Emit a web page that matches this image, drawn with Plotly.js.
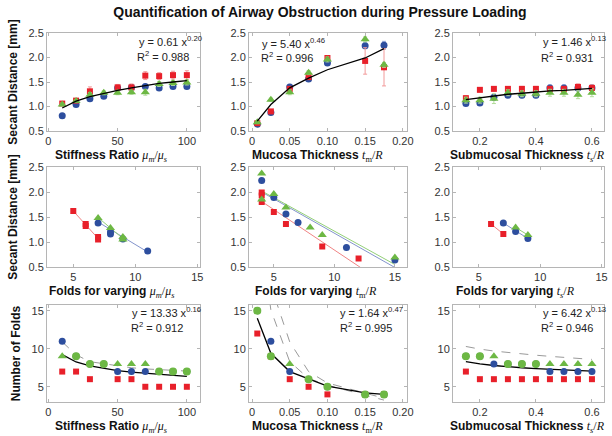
<!DOCTYPE html>
<html><head><meta charset="utf-8">
<script src="https://cdn.plot.ly/plotly-3.0.1.min.js"></script>
<style>html,body{margin:0;padding:0;background:#fff}#chart{width:612px;height:436px}</style>
</head><body><div id="chart"></div><script>
// ---------- categories ----------
const stiffRatio = [10,20,30,40,50,60,70,80,90,100];
const mucosaThk  = [0.007,0.025,0.05,0.075,0.1,0.15,0.175];
const submucThk  = [0.15,0.2,0.25,0.3,0.35,0.4,0.45,0.5,0.55,0.6];

// ---------- row 1: secant distance ----------
const secStiffBlue  = [0.81,1.04,1.16,1.21,1.38,1.39,1.41,1.38,1.41,1.41];
const secStiffRed   = [1.06,1.12,1.31,null,1.39,1.39,1.63,1.62,1.64,1.64];
const secStiffGreen = [1.04,1.11,1.24,1.28,1.28,1.29,1.29,1.46,1.48,1.49];
const errStiffBlue  = [0.03,0.03,0.04,0.04,0.05,0.05,0.04,0.04,0.04,0.04];
const errStiffRed   = [0.04,0.04,0.09,null,0.06,0.07,0.08,0.07,0.08,0.09];
const errStiffGreen = [0.03,0.03,0.04,0.04,0.04,0.04,0.06,0.05,0.05,0.05];
const secStiffFit   = [0.97,1.11,1.20,1.27,1.33,1.38,1.43,1.47,1.50,1.53];

const secMucBlue  = [0.64,0.88,1.40,1.56,1.89,2.24,2.25];
const secMucRed   = [0.66,0.90,1.36,1.60,1.99,1.93,1.80];
const secMucGreen = [0.68,1.14,1.29,1.69,1.96,2.37,1.85];
const errMucBlue  = [0.03,0.03,0.05,0.04,0.05,0.06,0.08];
const errMucRed   = [0.03,0.03,0.04,0.04,0.05,0.27,0.38];
const errMucGreen = [0.03,0.03,0.05,0.04,0.05,0.05,0.05];
const secMucFit   = [0.70,1.04,1.38,1.58,1.75,1.99,2.18];

const secSubBlue  = [1.06,1.07,1.19,1.23,1.23,1.23,1.38,1.38,1.38,1.38];
const secSubRed   = [1.17,1.34,1.36,1.36,1.36,1.36,1.36,1.36,1.40,1.38];
const secSubGreen = [1.13,1.13,1.16,1.28,1.26,1.26,1.28,1.28,1.24,1.28];
const errSubBlue  = [0.04,0.04,0.05,0.05,0.05,0.05,0.06,0.06,0.06,0.06];
const errSubRed   = [0.05,0.04,0.04,0.04,0.05,0.05,0.05,0.05,0.06,0.06];
const errSubGreen = [0.06,0.06,0.10,0.06,0.06,0.06,0.07,0.07,0.08,0.08];
const secSubFit   = [1.14,1.18,1.22,1.25,1.27,1.30,1.32,1.33,1.35,1.37];

// ---------- row 2: secant distance vs folds ----------
const foldsA_blue  = [7,8,8,9,11];        const secA_blue  = [1.38,1.16,1.20,1.06,0.82];
const foldsA_red   = [5,6,6,7,7];         const secA_red   = [1.62,1.32,1.36,1.05,1.10];
const foldsA_green = [7,8,9,9];           const secA_green = [1.48,1.28,1.10,1.05];
const lineA_blueX = [7,11];  const lineA_blueY = [1.40,0.80];
const lineA_redX  = [5,7];   const lineA_redY  = [1.62,1.07];
const lineA_greenX= [7,9];   const lineA_greenY= [1.49,1.07];

const foldsB_blue  = [4,5,6,7,11,15];     const secB_blue  = [2.23,1.89,1.56,1.39,0.89,0.64];
const foldsB_red   = [4,4,4,5,6,9,12];    const secB_red   = [1.99,1.93,1.80,1.60,1.36,0.91,0.67];
const foldsB_green = [4,4,5,6,8,9,15];    const secB_green = [2.37,1.85,1.96,1.69,1.29,1.14,0.69];
const lineB_blueX = [4,15];  const lineB_blueY = [2.00,0.49];
const lineB_redX  = [4,13];  const lineB_redY  = [1.81,0.355];
const lineB_greenX= [4,15];  const lineB_greenY= [2.02,0.55];

const foldsC_blue  = [7,8,9];   const secC_blue  = [1.38,1.21,1.07];
const foldsC_red   = [6,7];     const secC_red   = [1.36,1.16];
const foldsC_green = [8,9];     const secC_green = [1.29,1.14];
const lineC_blueX = [7,9];  const lineC_blueY = [1.38,1.07];
const lineC_redX  = [6,7];  const lineC_redY  = [1.36,1.16];
const lineC_greenX= [8,9];  const lineC_greenY= [1.29,1.14];

// ---------- row 3: number of folds ----------
const foldStiffBlue  = [11,9,8,8,7,7,7,7,7,7];
const foldStiffRed   = [7,7,6,null,6,6,5,5,5,5];
const foldStiffGreen = [9,9,8,8,8,8,8,7,7,7];
const foldStiffFit   = [9.22,8.26,7.74,7.39,7.13,6.92,6.76,6.61,6.49,6.38];
const foldStiffDash  = [10.9,9.2,8.3,8.0,7.7,7.5,7.35,7.25,7.15,7.07];

const foldMucBlue  = [15,11,7,6,5,4,4];
const foldMucRed   = [12,9,6,5,4,4,4];
const foldMucGreen = [15,9,8,6,5,4,4];
const foldMucFit   = [14.0,9.4,7.0,6.0,5.1,4.2,4.0];
const foldMucDashA = [28,15.1,8.3,6.1,5.2,3.9,3.25];
const foldMucDashB = [40,18.3,10.9,7.0,5.5,4.1,3.5];

const foldSubBlue  = [9,9,8,8,8,8,7,7,7,7];
const foldSubRed   = [7,6,6,6,6,6,6,6,6,6];
const foldSubGreen = [9,9,9,8,8,8,8,8,8,8];
const foldSubFit   = [8.30,8.00,7.80,7.62,7.50,7.40,7.30,7.20,7.12,7.05];
const foldSubDash  = [10.3,9.95,9.7,9.5,9.3,9.15,9.0,8.85,8.72,8.6];

// ---------- fit labels ----------
const fitEq = ['y = 0.61 x<sup>0.20</sup>','y = 5.40 x<sup>0.46</sup>','y = 1.46 x<sup>0.13</sup>',
               'y = 13.33 x<sup>0.16</sup>','y = 1.64 x<sup>0.47</sup>','y = 6.42 x<sup>0.13</sup>'];
const fitR2 = ['R<sup>2</sup> = 0.988','R<sup>2</sup> = 0.996','R<sup>2</sup> = 0.931',
               'R<sup>2</sup> = 0.912','R<sup>2</sup> = 0.995','R<sup>2</sup> = 0.946'];

// ---------- ticks ----------
const tickSecant = [0.5,1.0,1.5,2.0,2.5];
const tickSecantTxt = ['0.5','1.0','1.5','2.0','2.5'];
const tickFolds = [5,10,15];
const tickStiff = [0,50,100];
const tickMuc = [0,0.05,0.1,0.15,0.2];
const tickMucTxt = ['0','0.05','0.10','0.15','0.20'];
const tickSub = [0.2,0.4,0.6];
const tickSubTxt = ['0.2','0.4','0.6'];

// ---------- styling ----------
const W = 612, H = 436;
const BLUE = '#2d4e9e', RED = '#e8202a', GREEN = '#6db844';
const BLUE_E = '#93a6d8', RED_E = '#f29a9a', GREEN_E = '#b2dc9a';
const BLUE_L = '#8394cc', RED_L = '#f08484', GREEN_L = '#93cf78';
const FONT = 'Liberation Sans, Arial, sans-serif';
const SERIF = "Liberation Serif";
const colsPx = [[47,200],[249,407],[453,604]];
const rowsPx = [[33,131],[167,267],[305,402]];

function mathT(s){ return '<span style="font-family:\'' + SERIF + '\'">' + s + '</span>'; }
const mStiff = mathT('<i>μ<sub>m</sub></i>/<i>μ<sub>s</sub></i>');
const mMuc = mathT('<i>t</i><sub>m</sub>/<i>R</i>');
const mSub = mathT('<i>t<sub>s</sub></i>/<i>R</i>');
const xTitles = [
  '<b>Stiffness Ratio</b> ' + mStiff, '<b>Mucosa Thickness</b> ' + mMuc, '<b>Submucosal Thickness</b> ' + mSub,
  '<b>Folds for varying</b> ' + mStiff, '<b>Folds for varying</b> ' + mMuc, '<b>Folds for varying</b> ' + mSub,
  '<b>Stiffness Ratio</b> ' + mStiff, '<b>Mucosa Thickness</b> ' + mMuc, '<b>Submucosal Thickness</b> ' + mSub];
const xTitlePos = [[111,156],[317,156],[527,156],[112,292],[316,292],[515,292],[111,427],[317,427],[527,427]];
const yTitles = ['Secant Distance [mm]', '', '', 'Secant Distance [mm]', '', '', 'Number of Folds', '', ''];
const xRanges = [[-1,109.5],[-0.004,0.2055],[0.104,0.643],[2.88,15.22],[2.95,16.0],[2.9,15.2],[-1,109.5],[-0.004,0.2055],[0.104,0.643]];
const yRanges = [[0.5,2.5],[0.5,2.5],[0.5,2.5],[0.5,2.5],[0.5,2.5],[0.5,2.5],[3,15.75],[3,15.75],[3,15.75]];
const xTicks = [[tickStiff,null],[tickMuc,tickMucTxt],[tickSub,tickSubTxt],[tickFolds,null],[tickFolds,null],[tickFolds,null],[tickStiff,null],[tickMuc,tickMucTxt],[tickSub,tickSubTxt]];

const layout = {
  width: W, height: H, margin: {l:0,r:0,t:0,b:0}, showlegend: false,
  paper_bgcolor: '#fff', plot_bgcolor: '#fff',
  font: {family: FONT, size: 11, color: '#222'},
  title: {text: '<b>Quantification of Airway Obstruction during Pressure Loading</b>',
          font: {family: FONT, size: 14, color: '#111'}, x: 320/W, xanchor: 'center', y: 1 - 12/H, yanchor: 'middle'},
  annotations: []
};
for (let k = 0; k < 9; k++) {
  const r = Math.floor(k/3), c = k % 3;
  const s = k === 0 ? '' : String(k+1);
  const common = {showline: true, linecolor: '#b5b5b5', linewidth: 1, mirror: 'ticks', ticks: 'inside', ticklen: 3,
                  tickcolor: '#b5b5b5', showgrid: false, zeroline: false, tickfont: {family: FONT, size: 11, color: '#333'}};
  layout['xaxis' + s] = Object.assign({}, common, {
    domain: [colsPx[c][0]/W, colsPx[c][1]/W], range: xRanges[k], anchor: 'y' + s,
    tickmode: 'array', tickvals: xTicks[k][0], ticktext: xTicks[k][1] || xTicks[k][0].map(String)
  });
  const ya = Object.assign({}, common, {
    domain: [1 - rowsPx[r][1]/H, 1 - rowsPx[r][0]/H], range: yRanges[k], anchor: 'x' + s,
    tickmode: 'array', tickvals: r === 2 ? tickFolds : tickSecant, ticktext: r === 2 ? tickFolds.map(String) : tickSecantTxt
  });
  if (yTitles[k]) ya.title = {text: '<b>' + yTitles[k] + '</b>', font: {family: FONT, size: 12, color: '#111'}, standoff: 8};
  layout['yaxis' + s] = ya;
  layout.annotations.push({xref:'paper', yref:'paper', x: xTitlePos[k][0]/W, y: 1 - xTitlePos[k][1]/H,
    xanchor:'center', yanchor:'middle', text: xTitles[k], showarrow:false, font:{family: FONT, size: 12, color:'#111'}});
}
const eqPos = [[137,41,135,56],[260,43,259,57],[541,41,539,57],[130,312,129,327],[338,312,338,327],[541,312,539,327]];
eqPos.forEach((p, i) => {
  layout.annotations.push({xref:'paper', yref:'paper', x: p[0]/W, y: 1 - p[1]/H, xanchor:'left', yanchor:'middle',
    text: fitEq[i], showarrow:false, font:{family: FONT, size: 11, color:'#222'}});
  layout.annotations.push({xref:'paper', yref:'paper', x: p[2]/W, y: 1 - p[3]/H, xanchor:'left', yanchor:'middle',
    text: fitR2[i], showarrow:false, font:{family: FONT, size: 11, color:'#222'}});
});

const traces = [];
function ax(k){ const s = k === 0 ? '' : String(k+1); return {xaxis: 'x' + s, yaxis: 'y' + s}; }
function pts(k, x, y, color, symbol, size, err, errColor) {
  const t = Object.assign({type:'scatter', mode:'markers', x: x, y: y, hoverinfo:'skip',
    marker:{color: color, symbol: symbol, size: size, line:{width: 0}}}, ax(k));
  if (err) t.error_y = {type:'data', array: err, visible: true, color: errColor, thickness: 1, width: 2};
  traces.push(t);
}
function line(k, x, y, color, width, dash) {
  traces.push(Object.assign({type:'scatter', mode:'lines', x: x, y: y, hoverinfo:'skip',
    line:{color: color, width: width, dash: dash || 'solid'}}, ax(k)));
}

// row 1
const row1 = [[stiffRatio, secStiffBlue, secStiffRed, secStiffGreen, errStiffBlue, errStiffRed, errStiffGreen, secStiffFit],
              [mucosaThk, secMucBlue, secMucRed, secMucGreen, errMucBlue, errMucRed, errMucGreen, secMucFit],
              [submucThk, secSubBlue, secSubRed, secSubGreen, errSubBlue, errSubRed, errSubGreen, secSubFit]];
row1.forEach((d, c) => {
  pts(c, d[0], d[1], BLUE, 'circle', 7, d[4], BLUE_E);
  pts(c, d[0], d[2], RED, 'square', 6, d[5], RED_E);
  pts(c, d[0], d[3], GREEN, 'triangle-up', 8, d[6], GREEN_E);
  line(c, d[0], d[7], '#000', 1.3);
});
// row 2
const row2 = [[foldsA_blue, secA_blue, foldsA_red, secA_red, foldsA_green, secA_green, lineA_blueX, lineA_blueY, lineA_redX, lineA_redY, lineA_greenX, lineA_greenY],
              [foldsB_blue, secB_blue, foldsB_red, secB_red, foldsB_green, secB_green, lineB_blueX, lineB_blueY, lineB_redX, lineB_redY, lineB_greenX, lineB_greenY],
              [foldsC_blue, secC_blue, foldsC_red, secC_red, foldsC_green, secC_green, lineC_blueX, lineC_blueY, lineC_redX, lineC_redY, lineC_greenX, lineC_greenY]];
row2.forEach((d, c) => {
  const k = 3 + c;
  line(k, d[6], d[7], BLUE_L, 1);
  line(k, d[8], d[9], RED_L, 1);
  line(k, d[10], d[11], GREEN_L, 1);
  pts(k, d[0], d[1], BLUE, 'circle', 7);
  pts(k, d[2], d[3], RED, 'square', 6);
  pts(k, d[4], d[5], GREEN, 'triangle-up', 8);
});
// row 3
const row3 = [[stiffRatio, foldStiffBlue, foldStiffRed, foldStiffGreen, foldStiffFit, [foldStiffDash]],
              [mucosaThk, foldMucBlue, foldMucRed, foldMucGreen, foldMucFit, [foldMucDashA, foldMucDashB]],
              [submucThk, foldSubBlue, foldSubRed, foldSubGreen, foldSubFit, [foldSubDash]]];
row3.forEach((d, c) => {
  const k = 6 + c;
  d[5].forEach(ds => line(k, d[0], ds, '#9a9a9a', 1, 'dash'));
  line(k, d[0], d[4], '#000', 1.3);
  pts(k, d[0], d[2], RED, 'square', 6);
  pts(k, d[0], d[1], BLUE, 'circle', 7);
  const gSym = d[3].map((v, i) => (v === d[1][i] || v === d[2][i]) ? 'circle' : 'triangle-up');
  pts(k, d[0], d[3], GREEN, gSym, 8);
});

Plotly.newPlot('chart', traces, layout, {staticPlot: true, displayModeBar: false});
</script></body></html>
